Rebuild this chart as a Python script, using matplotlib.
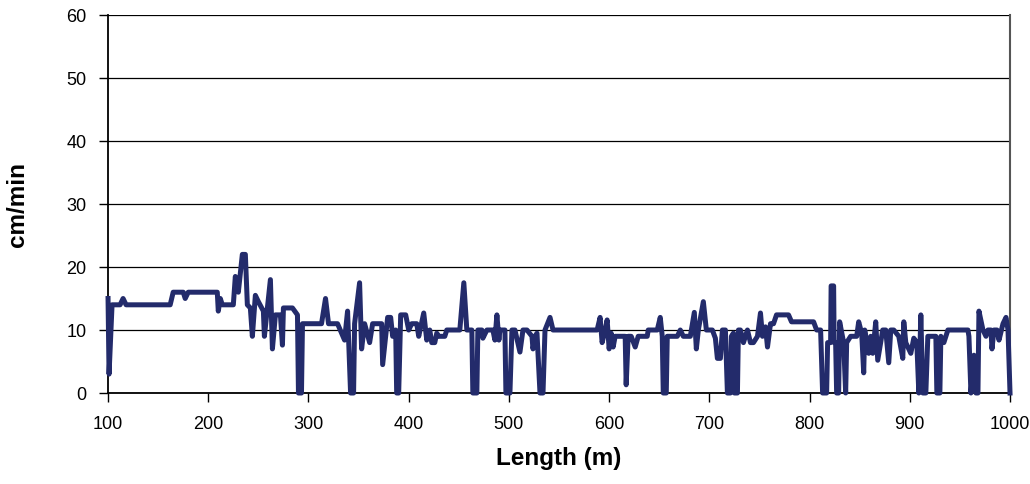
import matplotlib.pyplot as plt

plt.rcParams['font.family'] = ['Liberation Sans', 'DejaVu Sans']

length = [100, 101, 104, 112, 115, 118, 162, 165, 175, 177, 180, 209, 210, 212, 214, 225,
          227, 230, 234, 237, 239, 242, 244, 247, 250, 255, 256, 262, 264, 267, 272, 274,
          275, 284, 289, 290, 293, 294, 313, 317, 320, 329, 336, 339, 342, 345, 346, 351,
          353, 356, 361, 364, 373, 374, 379, 382, 384, 387, 388, 390, 392, 397, 400, 403,
          408, 410, 415, 418, 421, 423, 426, 428, 430, 436, 438, 451, 455, 458, 463, 464,
          468, 469, 473, 474, 478, 484, 486, 488, 490, 491, 496, 497, 501, 503, 506, 511,
          514, 518, 523, 524, 526, 528, 531, 534, 536, 541, 544, 588, 591, 593, 596, 598,
          600, 602, 604, 606, 616, 617, 619, 622, 626, 629, 638, 639, 648, 651, 653, 654,
          657, 658, 668, 671, 674, 681, 685, 687, 689, 694, 697, 703, 706, 708, 711, 713,
          716, 718, 721, 722, 724, 725, 728, 729, 731, 734, 738, 741, 744, 748, 751, 753,
          756, 758, 761, 764, 767, 779, 782, 804, 807, 811, 813, 817, 818, 821, 821.5, 824,
          824.5, 826, 827, 829, 830, 834, 836, 837, 841, 847, 849, 852, 854, 855, 859, 861,
          863, 866, 868, 873, 876, 879, 881, 884, 889, 893, 894, 896, 901, 904, 907, 909,
          911, 913, 916, 918, 926, 927, 930, 931, 934, 938, 958, 959, 961, 964, 966, 968,
          969, 973, 976, 978, 981, 982, 984, 987, 989, 993, 996, 998, 1000]
speed = [15, 3, 14, 14, 15, 14, 14, 16, 16, 15, 16, 16, 13, 15, 14, 14,
         18.5, 16, 22, 22, 14, 13.5, 9, 15.5, 14.5, 13, 9, 18, 7, 12.4, 12.4, 7.6,
         13.5, 13.5, 12.4, 0, 0, 11, 11, 15, 11, 11, 8.4, 13, 0, 0, 11, 17.5,
         7, 11, 8, 11, 11, 4.5, 12, 12, 9, 10, 0, 0, 12.4, 12.4, 10, 11,
         11, 9, 12.7, 8.4, 10, 8, 8, 9.5, 9, 9, 10, 10, 17.5, 10, 10, 0,
         0, 10, 10, 8.7, 10, 10, 8.4, 12.4, 8.4, 10, 10, 0, 0, 10, 10, 6.5,
         10, 10, 9, 7, 9, 9.5, 0, 0, 10, 12, 10, 10, 12, 8, 10, 11.6,
         7, 9.5, 7.3, 9, 9, 1.3, 9, 9, 7.3, 9, 9, 10, 10, 12, 9, 0,
         0, 9, 9, 10, 9, 9, 12.8, 7, 10, 14.5, 10, 10, 8.7, 5.5, 5.5, 10,
         10, 0, 0, 9, 9.5, 0, 0, 10, 10, 8, 10, 8, 8, 9, 12.7, 9,
         10.5, 7.3, 11, 11, 12.4, 12.4, 11.3, 11.3, 10, 10, 0, 0, 8, 8, 17, 17,
         8, 8, 0, 0, 11.3, 8, 0, 8, 9, 9, 11.3, 9.5, 3.2, 10, 6.3, 9,
         6.3, 11.3, 5.2, 10, 10, 4.8, 10, 10, 9, 5.5, 11.3, 8, 6.3, 8.7, 8, 0,
         12.4, 0, 0, 9, 9, 0, 0, 9, 8, 10, 10, 9, 0, 6, 0, 0,
         13, 10, 9, 10, 10, 7, 10, 10, 8.4, 11, 12, 10, 0]

fig = plt.figure(figsize=(10.3, 4.84), dpi=100)
ax = fig.add_axes([0.1049, 0.188, 0.8757, 0.781])

ax.plot(length, speed, color='#232B6B', lw=3.6, clip_on=False, zorder=3)

ax.set_xlim(100, 1000)
ax.set_ylim(0, 60)
ax.set_xticks(range(100, 1001, 100))
ax.set_yticks(range(0, 61, 10))
ax.yaxis.grid(True, color='black', lw=0.9)
ax.set_axisbelow(True)

ax.spines['top'].set_visible(False)
ax.spines['right'].set_color('#555555')
ax.spines['right'].set_linewidth(1.5)
ax.spines['left'].set_linewidth(1.3)
ax.spines['bottom'].set_linewidth(1.3)

ax.tick_params(axis='both', direction='out', length=6.5, width=1, labelsize=13)
ax.tick_params(axis='y', pad=9)
ax.tick_params(axis='x', pad=10)

ax.set_xlabel('Length (m)', fontsize=17.5, fontweight='bold', labelpad=10)
ax.set_ylabel('cm/min', fontsize=17.5, fontweight='bold', labelpad=27)

fig.savefig('out.png', dpi=100)
